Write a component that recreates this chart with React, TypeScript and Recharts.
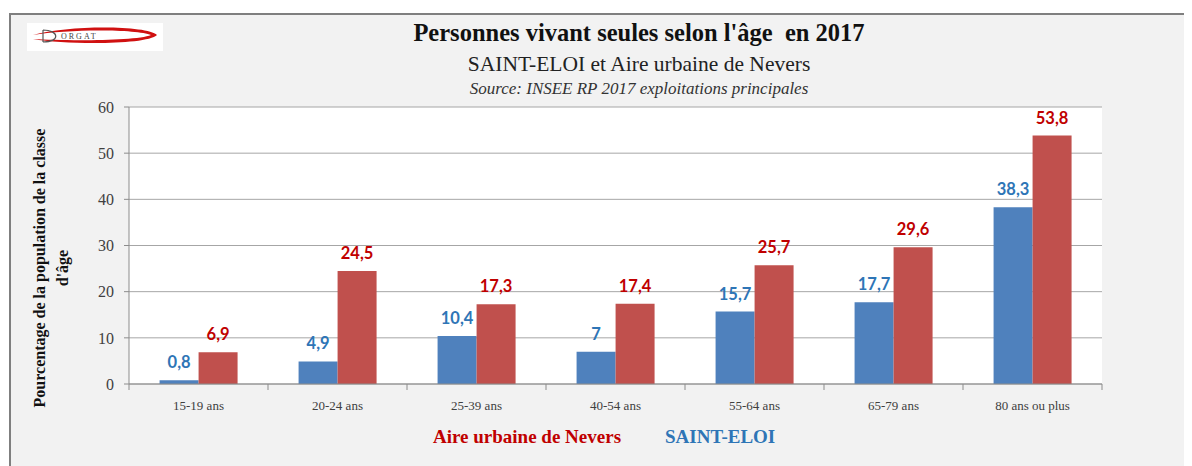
import { BarChart, Bar, XAxis, YAxis, CartesianGrid, LabelList } from 'recharts'

const ageGroups = ['15-19 ans', '20-24 ans', '25-39 ans', '40-54 ans', '55-64 ans', '65-79 ans', '80 ans ou plus']
const saintEloi = [0.8, 4.9, 10.4, 7, 15.7, 17.7, 38.3]
const aireNevers = [6.9, 24.5, 17.3, 17.4, 25.7, 29.6, 53.8]
const yTicks = [0, 10, 20, 30, 40, 50, 60]
const legendNames = ['Aire urbaine de Nevers', 'SAINT-ELOI']

const W = 1184
const H = 458
const margin = { top: 99, right: 90, bottom: 52, left: 81 }
const Y_AXIS_W = 40
const band = (W - margin.left - margin.right - Y_AXIS_W) / ageGroups.length

const serif = '"Liberation Serif", "DejaVu Serif", serif'
const axisGrey = '#8c8c8c'
const BLUE_TXT = '#2e75b6'
const RED_TXT = '#c00000'

const frLabel = (v: any) => String(v).replace('.', ',')

function AgeTick(props: any) {
  const { x, y, payload, index } = props
  return (
    <g>
      <line x1={x - band / 2} x2={x - band / 2} y1={y} y2={y + 6} stroke={axisGrey} />
      {index === ageGroups.length - 1 && (
        <line x1={x + band / 2} x2={x + band / 2} y1={y} y2={y + 6} stroke={axisGrey} />
      )}
      <text x={x} y={y + 26} textAnchor="middle" fontFamily={serif} fontSize={13} fill="#404040">
        {payload.value}
      </text>
    </g>
  )
}

function Logo() {
  return (
    <svg width={136} height={28} style={{ position: 'absolute', left: 19, top: 15 }}>
      <rect width={136} height={28} fill="#fff" />
      <path d="M6 12 C 40 2, 120 2, 130 12 C 120 22, 40 22, 6 16 C 40 18, 110 18, 124 12 C 110 6, 40 6, 6 12 Z" fill="#d01010" />
      <path d="M16 7 L 16 19 M 16 7 C 32 7, 34 19, 16 19" stroke="#555" fill="none" strokeWidth={1.2} />
      <text x={34} y={16} fontFamily={serif} fontSize={8} letterSpacing={2} fill="#444">ORGAT</text>
    </svg>
  )
}

const centered = (top: number, extra: any) => ({
  position: 'absolute' as const,
  left: 0,
  width: 1262,
  top,
  textAlign: 'center' as const,
  fontFamily: serif,
  whiteSpace: 'pre' as const,
  ...extra,
})

export default function App() {
  const data = ageGroups.map((age, i) => ({ age, eloi: saintEloi[i], nevers: aireNevers[i] }))

  return (
    <div style={{ position: 'relative', width: W, height: H, overflow: 'hidden' }}>
      <div
        style={{
          position: 'absolute',
          left: 1,
          top: 5,
          width: W + 20,
          height: H + 20,
          border: '2px solid #7f7f7f',
          background: '#f2f2f2',
        }}
      />
      <Logo />
      <div style={centered(11, { fontSize: 24.5, lineHeight: '28px', fontWeight: 'bold', color: '#111' })}>
        {"Personnes vivant seules selon l'âge  en 2017"}
      </div>
      <div style={centered(44, { fontSize: 21.5, lineHeight: '24px', color: '#222' })}>
        SAINT-ELOI et Aire urbaine de Nevers
      </div>
      <div style={centered(71, { fontSize: 17, lineHeight: '20px', fontStyle: 'italic', color: '#333' })}>
        Source: INSEE RP 2017 exploitations principales
      </div>
      <div
        style={{
          position: 'absolute',
          left: 44 - 160,
          top: 260 - 24,
          width: 320,
          height: 48,
          transform: 'rotate(-90deg)',
          textAlign: 'center',
          fontFamily: serif,
          fontWeight: 'bold',
          fontSize: 16,
          lineHeight: '23px',
          color: '#111',
        }}
      >
        Pourcentage de la population de la classe
        <br />
        d'âge
      </div>
      <div style={{ position: 'absolute', left: 0, top: 0 }}>
        <BarChart width={W} height={H} data={data} margin={margin} barGap={0} barCategoryGap="22%">
          <CartesianGrid vertical={false} stroke="#a6a6a6" fill="#ffffff" />
          <XAxis
            dataKey="age"
            stroke={axisGrey}
            tickLine={false}
            tickSize={0}
            tickMargin={0}
            tick={<AgeTick />}
            interval={0}
            height={30}
          />
          <YAxis
            width={Y_AXIS_W}
            domain={[0, 60]}
            ticks={yTicks}
            stroke={axisGrey}
            tickSize={5}
            tickMargin={10}
            tick={{ fontFamily: serif, fontSize: 16, fill: '#404040' }}
          />
          <Bar dataKey="eloi" name="SAINT-ELOI" fill="#4f81bd" isAnimationActive={false}>
            <LabelList
              dataKey="eloi"
              position="top"
              offset={12}
              formatter={frLabel}
              style={{ fontFamily: 'Lato, sans-serif', fontWeight: 'bold', fontSize: 16.5, fill: BLUE_TXT }}
            />
          </Bar>
          <Bar dataKey="nevers" name="Aire urbaine de Nevers" fill="#c0504d" isAnimationActive={false}>
            <LabelList
              dataKey="nevers"
              position="top"
              offset={12}
              formatter={frLabel}
              style={{ fontFamily: 'Lato, sans-serif', fontWeight: 'bold', fontSize: 16.5, fill: RED_TXT }}
            />
          </Bar>
        </BarChart>
      </div>
      <div
        style={{
          position: 'absolute',
          left: 425,
          top: 418,
          display: 'flex',
          gap: 44,
          fontFamily: serif,
          fontWeight: 'bold',
          fontSize: 19,
          lineHeight: '22px',
          whiteSpace: 'pre',
        }}
      >
        <span style={{ color: RED_TXT }}>{legendNames[0]}</span>
        <span style={{ color: BLUE_TXT }}>{legendNames[1]}</span>
      </div>
    </div>
  )
}
